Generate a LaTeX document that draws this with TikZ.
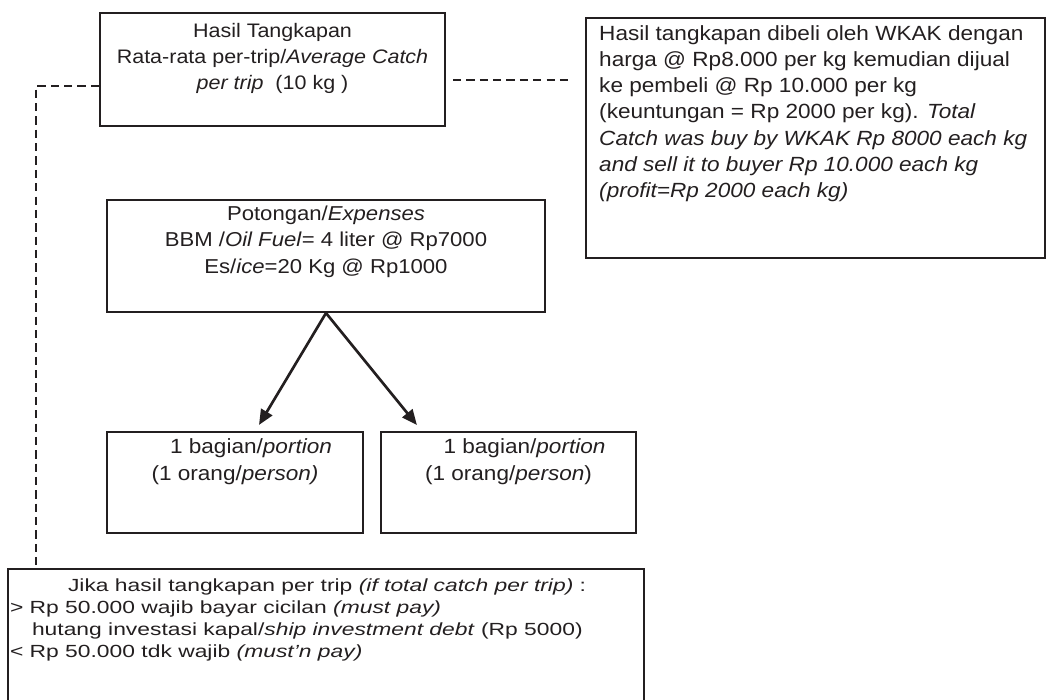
\documentclass[tikz,border=0pt]{standalone}
\usepackage{fontspec}
\setmainfont{Liberation Sans}[FakeStretch=1.1]
\newfontfamily\lebar{Liberation Sans}[FakeStretch=1.3]
\usetikzlibrary{arrows.meta}
\definecolor{hitam}{RGB}{35,31,32}

\begin{document}
\begin{tikzpicture}[color=hitam, kotak/.style={draw, line width=1.5pt, inner sep=0pt},
  isi/.style={inner sep=0pt, font=\fontsize{14.6}{18.7}\selectfont},
  putus/.style={line width=1.5pt, dash pattern=on 5.9pt off 3.6pt},
  panah/.style={line width=1.9pt, -{Triangle[length=0.38cm,width=0.32cm]}}]
\useasboundingbox (0,0) rectangle (26.15,17.5);
\node[kotak, minimum width=8.625cm, minimum height=2.825cm] (hasil) at (6.8125,15.7625) {};
\node[isi, align=center, anchor=north, font=\fontsize{13.9}{18.5}\selectfont] (hasiltxt) at ([yshift=-0.28cm]hasil.north) {Hasil Tangkapan\\ Rata-rata per-trip/\textit{Average Catch}\\ \textit{per trip}\ \ (10 kg )};
\node[kotak, minimum width=11.475cm, minimum height=6cm] (jual) at (20.3875,14.05) {};
\node[isi, align=left, anchor=north west] (jualtxt) at ([xshift=0.35cm,yshift=-0.2cm]jual.north west) {Hasil tangkapan dibeli oleh WKAK dengan\\ harga @ Rp8.000 per kg kemudian dijual\\ ke pembeli @ Rp 10.000 per kg\\ (keuntungan = Rp 2000 per kg). \textit{Total}\\ \textit{Catch was buy by WKAK Rp 8000 each kg}\\ \textit{and sell it to buyer Rp 10.000 each kg}\\ \textit{(profit=Rp 2000 each kg)}};
\node[kotak, minimum width=10.95cm, minimum height=2.8cm] (potongan) at (8.15,11.1) {};
\node[isi, align=center, anchor=north, font=\fontsize{14.3}{18.5}\selectfont] (potongantxt) at ([yshift=-0.18cm]potongan.north) {Potongan/\textit{Expenses}\\ BBM /\textit{Oil Fuel}= 4 liter @ Rp7000\\ Es/\textit{ice}=20 Kg @ Rp1000};
\node[kotak, minimum width=6.4cm, minimum height=2.525cm] (bagian1) at (5.875,5.4375) {};
\node[isi, align=center, anchor=north, font=\fontsize{14.6}{19.2}\selectfont] (bagian1txt) at ([yshift=-0.18cm]bagian1.north) {\hspace*{0.8cm}1 bagian/\textit{portion}\\ (1 orang/\textit{person)}};
\node[kotak, minimum width=6.375cm, minimum height=2.525cm] (bagian2) at (12.7125,5.4375) {};
\node[isi, align=center, anchor=north, font=\fontsize{14.6}{19.2}\selectfont] (bagian2txt) at ([yshift=-0.18cm]bagian2.north) {\hspace*{0.8cm}1 bagian/\textit{portion}\\ (1 orang/\textit{person})};
\node[kotak, minimum width=15.9cm, minimum height=3.775cm] (jika) at (8.15,1.3875) {};
\node[isi, align=left, anchor=north west, font=\lebar\fontsize{12.5}{15.7}\selectfont] (jikatxt) at ([xshift=0.07cm,yshift=-0.26cm]jika.north west) {\hspace*{1.45cm}Jika hasil tangkapan per trip \textit{(if total catch per trip)} :\\ > Rp 50.000 wajib bayar cicilan \textit{(must pay)}\\ \hspace*{0.55cm}hutang investasi kapal/\textit{ship investment debt} (Rp 5000)\\ < Rp 50.000 tdk wajib \textit{(must’n pay)}};
\draw[panah] (potongan.south) -- ([xshift=0.6cm,yshift=0.15cm]bagian1.north);
\draw[panah] (potongan.south) -- ([xshift=-2.29cm,yshift=0.15cm]bagian2.north);
\draw[putus] ([xshift=0.175cm,yshift=-0.26cm]hasil.east) -- ++(3,0);
\draw[putus] ([yshift=-0.41cm]hasil.west) -| ([xshift=0.725cm]jika.north west);
\end{tikzpicture}
\end{document}
